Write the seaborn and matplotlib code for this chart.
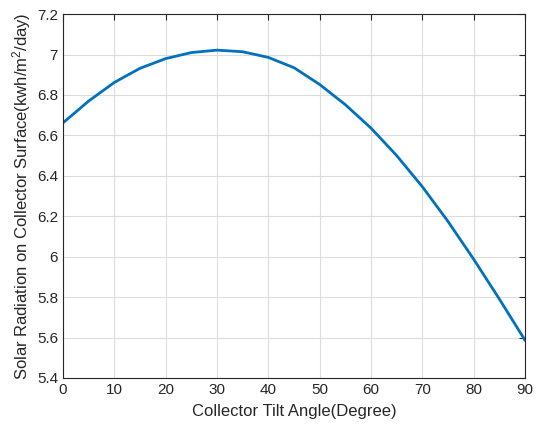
import matplotlib
matplotlib.use("Agg")
import matplotlib.pyplot as plt
import seaborn as sns
import pandas as pd

# values
tilt_angle = [0, 5, 10, 15, 20, 25, 30, 35, 40, 45, 50, 55, 60, 65, 70, 75, 80, 85, 90]
radiation = [6.662, 6.770, 6.862, 6.932, 6.980, 7.010, 7.022, 7.014, 6.986, 6.935,
             6.852, 6.752, 6.636, 6.500, 6.346, 6.174, 5.987, 5.790, 5.586]
x_ticks = [0, 10, 20, 30, 40, 50, 60, 70, 80, 90]
y_ticks = [5.4, 5.6, 5.8, 6.0, 6.2, 6.4, 6.6, 6.8, 7.0, 7.2]
y_tick_labels = ["5.4", "5.6", "5.8", "6", "6.2", "6.4", "6.6", "6.8", "7", "7.2"]

df = pd.DataFrame({"tilt": tilt_angle, "rad": radiation})

sns.set_style("white")
plt.rcParams['font.family'] = ['Liberation Sans', 'DejaVu Sans']
plt.rcParams['mathtext.fontset'] = 'custom'
plt.rcParams['mathtext.rm'] = 'Liberation Sans'
plt.rcParams['mathtext.it'] = 'Liberation Sans'

fig = plt.figure(figsize=(5.38, 4.29), dpi=100)
ax = fig.add_axes([0.117, 0.119, 0.859, 0.848])

sns.lineplot(data=df, x="tilt", y="rad", ax=ax, color="#0072BD", linewidth=2)

ax.set_xlim(0, 90)
ax.set_ylim(5.4, 7.2)
ax.set_xticks(x_ticks)
ax.set_yticks(y_ticks)
ax.set_yticklabels(y_tick_labels)
ax.grid(True, color="#dcdcdc", linewidth=0.8)
ax.tick_params(direction="in", length=4, width=0.8, colors="#262626",
               labelsize=11, top=True, right=True, labeltop=False, labelright=False)
for s in ax.spines.values():
    s.set_color("#262626")
    s.set_linewidth(0.8)

ax.set_xlabel("Collector Tilt Angle(Degree)", fontsize=12, color="#262626", labelpad=5)
ax.set_ylabel("Solar Radiation on Collector Surface(kwh/m$^2$/day)", fontsize=12,
              color="#262626", labelpad=3)

fig.savefig("out.png", dpi=100)
